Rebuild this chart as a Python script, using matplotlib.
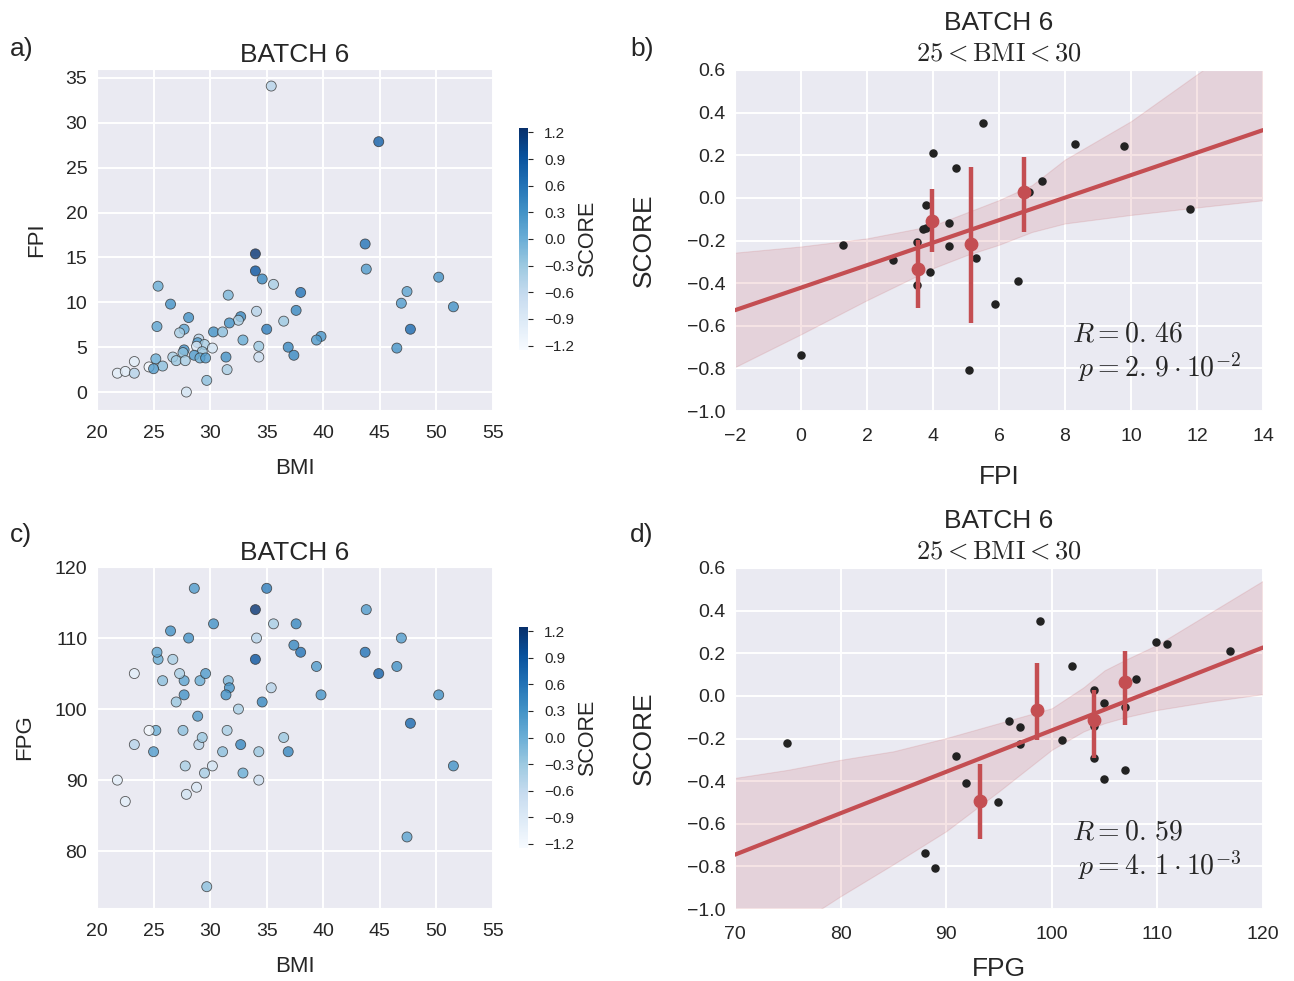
import numpy as np
import matplotlib
matplotlib.use("Agg")
import matplotlib.pyplot as plt
import seaborn as sns

# all patients (panels a and c)
bmi = [35.4, 44.9, 34.0, 43.7, 43.8, 34.0, 34.6, 35.6, 25.4, 50.2,
       38.0, 47.4, 31.6, 46.9, 51.5, 26.5, 37.6, 34.1, 28.1, 32.7,
       32.5, 36.5, 31.7, 25.3, 35.0, 27.7, 27.3, 30.3, 31.1, 39.8,
       39.4, 29.0, 28.9, 32.9, 29.5, 36.9, 46.5, 34.3, 47.7, 30.2,
       28.8, 27.7, 27.6, 29.3, 37.4, 31.4, 28.6, 29.1, 29.6, 34.3,
       26.7, 25.2, 27.0, 27.8, 23.3, 25.8, 24.6, 25.0, 21.8, 22.5,
       23.3, 31.5, 29.7, 27.9]
fpi = [34.1, 27.9, 15.4, 16.5, 13.7, 13.5, 12.6, 12.0, 11.8, 12.8,
       11.1, 11.2, 10.8, 9.9, 9.5, 9.8, 9.1, 9.0, 8.3, 8.4,
       8.0, 7.9, 7.7, 7.3, 7.0, 7.0, 6.6, 6.7, 6.7, 6.2,
       5.8, 5.9, 5.5, 5.8, 5.3, 5.0, 4.9, 5.1, 7.0, 4.9,
       5.1, 4.7, 4.4, 4.5, 4.1, 3.9, 4.1, 3.8, 3.8, 3.9,
       3.9, 3.7, 3.5, 3.5, 3.4, 2.9, 2.8, 2.6, 2.1, 2.3,
       2.1, 2.5, 1.3, 0.0]
fpg = [103, 105, 114, 108, 114, 107, 101, 112, 107, 102,
       108, 82, 104, 110, 92, 111, 112, 110, 110, 95,
       100, 96, 103, 108, 117, 104, 105, 112, 94, 102,
       106, 95, 99, 91, 91, 94, 106, 94, 98, 92,
       89, 102, 97, 96, 109, 102, 117, 104, 105, 90,
       107, 97, 101, 92, 105, 104, 97, 94, 90, 87,
       95, 97, 75, 88]
score = [-0.5, 0.8, 1.2, 0.6, 0.2, 0.9, 0.4, -0.4, 0.0, 0.3,
         0.6, 0.1, -0.1, 0.2, 0.3, 0.3, 0.4, -0.5, 0.3, 0.4,
         -0.4, -0.3, 0.3, 0.1, 0.5, 0.1, -0.4, 0.3, -0.2, 0.3,
         0.2, -0.5, 0.2, 0.0, -0.4, 0.4, 0.3, -0.3, 0.7, -0.8,
         -0.9, 0.3, -0.2, -0.3, 0.4, 0.3, 0.2, 0.0, 0.2, -0.7,
         -0.4, 0.0, -0.3, -0.4, -1.0, -0.2, -1.2, 0.2, -1.0, -1.0,
         -0.5, -0.4, -0.2, -0.8]

# 25 < BMI < 30 subset (panels b and d)
sub_score = [0.353, 0.209, 0.251, 0.245, 0.142, 0.081, 0.027, -0.050, -0.033, -0.117,
             -0.144, -0.140, -0.223, -0.207, -0.226, -0.290, -0.282, -0.349, -0.409, -0.388,
             -0.496, -0.739, -0.808]
sub_fpi = [5.5, 3.99, 8.29, 9.80, 4.69, 7.29, 6.91, 11.8, 3.79, 4.49,
           3.70, 3.78, 1.28, 3.5, 4.49, 2.79, 5.29, 3.90, 3.5, 6.59,
           5.89, 0.0, 5.09]
sub_fpg = [98.9, 116.9, 109.9, 110.9, 101.9, 107.95, 103.96, 106.95, 104.9, 95.94,
           96.95, 104.0, 74.97, 100.94, 96.95, 103.96, 90.9, 106.95, 91.9, 104.97,
           94.94, 87.95, 88.96]

# binned estimates
b_bin_x = [3.56, 3.98, 5.14, 6.77]
b_bin_y = [-0.333, -0.109, -0.216, 0.028]
b_bin_lo = [-0.515, -0.254, -0.585, -0.158]
b_bin_hi = [-0.197, 0.043, 0.147, 0.191]
d_bin_x = [93.16, 98.56, 103.95, 106.97]
d_bin_y = [-0.495, -0.068, -0.112, 0.064]
d_bin_lo = [-0.67, -0.206, -0.292, -0.139]
d_bin_hi = [-0.32, 0.153, 0.028, 0.211]

# regression fit and confidence band
b_fit_x = [-2, 14]
b_fit_y = [-0.527, 0.318]
b_band_x = [-2, 0, 2, 4, 5, 6, 7, 8, 10, 12, 14]
b_band_lo = [-0.794, -0.64, -0.48, -0.33, -0.27, -0.22, -0.16, -0.12, -0.08, -0.045, -0.011]
b_band_hi = [-0.257, -0.228, -0.19, -0.13, -0.07, -0.01, 0.06, 0.18, 0.36, 0.58, 0.80]
d_fit_x = [70, 120]
d_fit_y = [-0.745, 0.227]
d_band_x = [70, 75, 80, 85, 90, 95, 100, 103, 105, 107, 110, 115, 120]
d_band_lo = [-1.25, -1.10, -0.94, -0.79, -0.635, -0.448, -0.253, -0.167, -0.128, -0.10, -0.066, -0.026, 0.008]
d_band_hi = [-0.385, -0.347, -0.30, -0.26, -0.198, -0.128, -0.058, 0.04, 0.12, 0.17, 0.24, 0.39, 0.54]

cbar_ticks = [-1.2, -0.9, -0.6, -0.3, 0.0, 0.3, 0.6, 0.9, 1.2]

RED = "#C44E52"
W, H = 1294, 981


def box(left, top, right, bottom):
    return [left / W, 1 - bottom / H, (right - left) / W, (bottom - top) / H]


def scatter_panel(fig, rect, crect, y, ylabel, ylim, yticks, letter, ly, ypad):
    ax = fig.add_axes(box(*rect))
    sc = ax.scatter(bmi, y, c=score, cmap="Blues", vmin=-1.25, vmax=1.25,
                    s=52, edgecolors="#333333", linewidths=0.6, alpha=0.8, zorder=3)
    ax.set_xlim(20, 55)
    ax.set_ylim(*ylim)
    ax.set_xticks(range(20, 56, 5))
    ax.set_yticks(yticks)
    ax.tick_params(labelsize=14)
    ax.tick_params(axis="x", pad=7)
    ax.set_xlabel("BMI", fontsize=16, labelpad=12)
    ax.set_ylabel(ylabel, fontsize=16, labelpad=ypad)
    ax.set_title("BATCH 6", fontsize=19, pad=5)
    cax = fig.add_axes(box(*crect))
    cb = fig.colorbar(sc, cax=cax, ticks=cbar_ticks)
    cb.outline.set_visible(False)
    cb.solids.set_alpha(1)
    cax.tick_params(labelsize=11, pad=8)
    cb.set_label("SCORE", fontsize=15.5, labelpad=2)
    fig.text(10 / W, 1 - ly / H, letter, fontsize=19, va="center", ha="left")
    return ax


def reg_panel(fig, rect, x, bx, by, blo, bhi, fx, fy, bandx, bandlo, bandhi,
              xlim, xticks, xlabel, xpad, rtxt, ptxt, letter, ly):
    ax = fig.add_axes(box(*rect))
    ax.scatter(x, sub_score, color="#222222", s=26, zorder=3)
    ax.fill_between(bandx, bandlo, bandhi, color=RED, alpha=0.15, lw=0.8, zorder=2)
    ax.plot(fx, fy, color=RED, lw=3, zorder=4)
    ax.vlines(bx, blo, bhi, color=RED, lw=3.2, zorder=5)
    ax.scatter(bx, by, color=RED, s=80, zorder=6)
    ax.set_xlim(*xlim)
    ax.set_ylim(-1.0, 0.6)
    ax.set_xticks(xticks)
    ax.set_yticks(np.round(np.arange(-1.0, 0.61, 0.2), 1))
    ax.tick_params(labelsize=14)
    ax.tick_params(axis="x", pad=9)
    ax.set_xlabel(xlabel, fontsize=19, labelpad=xpad)
    ax.set_ylabel("SCORE", fontsize=19, labelpad=22)
    ax.set_title("BATCH 6\n$25 < \\mathrm{BMI} < 30$", fontsize=19, pad=7, linespacing=1.35)
    ax.text(0.638, 0.205, rtxt, transform=ax.transAxes, fontsize=20, va="baseline")
    ax.text(0.650, 0.0997, ptxt, transform=ax.transAxes, fontsize=20, va="baseline")
    fig.text(630 / W, 1 - ly / H, letter, fontsize=19, va="center", ha="left")
    return ax


def batch_figure():
    sns.set_style("darkgrid")
    plt.rcParams["font.family"] = ["Liberation Sans", "DejaVu Sans"]
    plt.rcParams["mathtext.fontset"] = "cm"
    plt.rcParams["grid.linewidth"] = 1.4
    plt.rcParams["text.color"] = "#262626"

    fig = plt.figure(figsize=(W / 100, H / 100), dpi=100)

    scatter_panel(fig, (97, 69, 493, 410), (519, 128, 528, 350), fpi, "FPI",
                  (-2, 36), range(0, 36, 5), "a)", 49, 13)
    scatter_panel(fig, (97, 567, 493, 908), (519, 627, 528, 848), fpg, "FPG",
                  (72, 120), range(80, 121, 10), "c)", 535, 14)

    reg_panel(fig, (735, 70, 1263, 411), sub_fpi, b_bin_x, b_bin_y, b_bin_lo, b_bin_hi,
              b_fit_x, b_fit_y, b_band_x, b_band_lo, b_band_hi,
              (-2, 14), range(-2, 15, 2), "FPI", 14,
              r"$R=0.\,46$", r"$p=2.\,9\cdot10^{-2}$", "b)", 49)
    reg_panel(fig, (735, 568, 1263, 909), sub_fpg, d_bin_x, d_bin_y, d_bin_lo, d_bin_hi,
              d_fit_x, d_fit_y, d_band_x, d_band_lo, d_band_hi,
              (70, 120), range(70, 121, 10), "FPG", 10,
              r"$R=0.\,59$", r"$p=4.\,1\cdot10^{-3}$", "d)", 535)

    fig.savefig("out.png", dpi=100)


if __name__ == "__main__":
    batch_figure()
